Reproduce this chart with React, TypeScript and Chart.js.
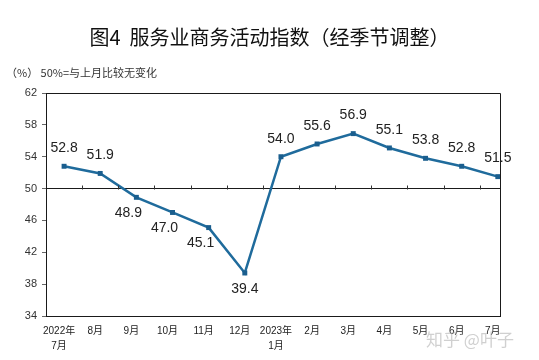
import React, { useEffect, useRef } from "react";
import { Chart, registerables } from "chart.js";

Chart.register(...registerables);

const categories: (string | string[])[] = [
  ["2022年", "7月"], "8月", "9月", "10月", "11月", "12月",
  ["2023年", "1月"], "2月", "3月", "4月", "5月", "6月", "7月",
];
const values: number[] = [52.8, 51.9, 48.9, 47.0, 45.1, 39.4, 54.0, 55.6, 56.9, 55.1, 53.8, 52.8, 51.5];
const yTicks: number[] = [34, 38, 42, 46, 50, 54, 58, 62];
const baseline = 50;
const titleText = "图4  服务业商务活动指数（经季节调整）";
const subtitleText = "（%） 50%=与上月比较无变化";
const watermark = "知乎 @叶子";

const FONT = "'Liberation Sans', 'Noto Sans CJK SC', sans-serif";

const decorPlugin = {
  id: "decor",
  afterDraw(chart: any) {
    const ctx = chart.ctx as CanvasRenderingContext2D;
    const { left, right, top, bottom } = chart.chartArea;
    const xs = chart.scales.x;
    const ys = chart.scales.y;
    ctx.save();
    // frame top & right
    ctx.strokeStyle = "#1a1a1a";
    ctx.lineWidth = 1;
    ctx.beginPath();
    ctx.moveTo(left, top + 0.5);
    ctx.lineTo(right + 0.5, top + 0.5);
    ctx.lineTo(right + 0.5, bottom);
    ctx.stroke();
    // tick marks on baseline
    const by = Math.round(ys.getPixelForValue(baseline)) + 0.5;
    ctx.strokeStyle = "#333";
    ctx.beginPath();
    for (let i = 0; i < categories.length - 1; i++) {
      const px = Math.round(xs.getPixelForValue(i + 0.5)) + 0.5;
      ctx.moveTo(px, by);
      ctx.lineTo(px, by - 4);
    }
    ctx.stroke();
    // data labels
    const meta = chart.getDatasetMeta(0);
    ctx.font = `14px ${FONT}`;
    ctx.fillStyle = "#222";
    ctx.textAlign = "center";
    ctx.textBaseline = "middle";
    const minV = Math.min(...values);
    meta.data.forEach((pt: any, i: number) => {
      const v = values[i];
      const below = v < baseline;
      let dx = 0;
      if (below && v !== minV) dx = -8;
      const dy = below ? 16 : -18;
      ctx.fillText(v.toFixed(1), pt.x + dx, pt.y + dy);
    });
    // title
    ctx.font = `20px 'Noto Sans CJK SC', sans-serif`;
    ctx.fillStyle = "#111";
    ctx.fillText(titleText, chart.width / 2, 37);
    // subtitle
    ctx.font = `11px 'Noto Sans CJK SC', sans-serif`;
    ctx.fillStyle = "#333";
    ctx.textAlign = "left";
    ctx.fillText(subtitleText, 6, 73);
    // watermark
    ctx.font = `17px 'Noto Sans CJK SC', sans-serif`;
    ctx.fillStyle = "rgba(170,170,170,0.55)";
    ctx.fillText(watermark, 426, 340);
    ctx.restore();
  },
};

export default function App() {
  const ref = useRef<HTMLCanvasElement>(null);
  useEffect(() => {
    document.body.style.margin = "0";
    const chart = new Chart(ref.current as HTMLCanvasElement, {
      type: "line",
      data: {
        datasets: [
          {
            data: values.map((v, i) => ({ x: i, y: v })),
            borderColor: "#1f6b9c",
            borderWidth: 2.5,
            pointStyle: "rect",
            pointRadius: 3.5,
            pointBackgroundColor: "#1a5e8e",
            pointBorderWidth: 0,
            tension: 0,
            clip: false as any,
          },
        ],
      },
      options: {
        animation: false,
        responsive: false,
        maintainAspectRatio: false,
        layout: { padding: { top: 93, right: 39, left: 0, bottom: 0 } },
        plugins: { legend: { display: false }, tooltip: { enabled: false } },
        scales: {
          x: {
            type: "linear",
            min: -0.5,
            max: 12.06,
            afterBuildTicks: (s: any) => {
              s.ticks = categories.map((_, i) => ({ value: i }));
            },
            afterFit: (s: any) => {
              s.height = 44;
            },
            grid: { display: true, drawOnChartArea: false, drawTicks: false },
            border: { display: true, color: "#1a1a1a", width: 1 },
            ticks: {
              autoSkip: false,
              maxRotation: 0,
              padding: 8,
              labelOffset: -5,
              color: "#222",
              font: { family: FONT, size: 10, lineHeight: 1.5 },
              callback: (v: any) => categories[v as number] as any,
            },
          },
          y: {
            min: 34,
            max: 62,
            afterBuildTicks: (s: any) => {
              s.ticks = yTicks.map((v) => ({ value: v }));
            },
            afterFit: (s: any) => {
              s.width = 46;
            },
            grid: {
              drawOnChartArea: true,
              color: (c: any) => (c.tick && c.tick.value === baseline ? "#1a1a1a" : "rgba(0,0,0,0)"),
              tickColor: "#666",
              tickLength: 4,
              lineWidth: 1,
            },
            border: { display: true, color: "#1a1a1a", width: 1 },
            ticks: {
              padding: 5,
              color: "#333",
              font: { family: FONT, size: 11 },
              callback: (v: any) => String(v),
            },
          },
        },
      },
      plugins: [decorPlugin],
    });
    return () => chart.destroy();
  }, []);
  return (
    <div style={{ width: 539, height: 360, background: "#fff" }}>
      <canvas ref={ref} width={539} height={360} style={{ width: 539, height: 360, display: "block" }} />
    </div>
  );
}
